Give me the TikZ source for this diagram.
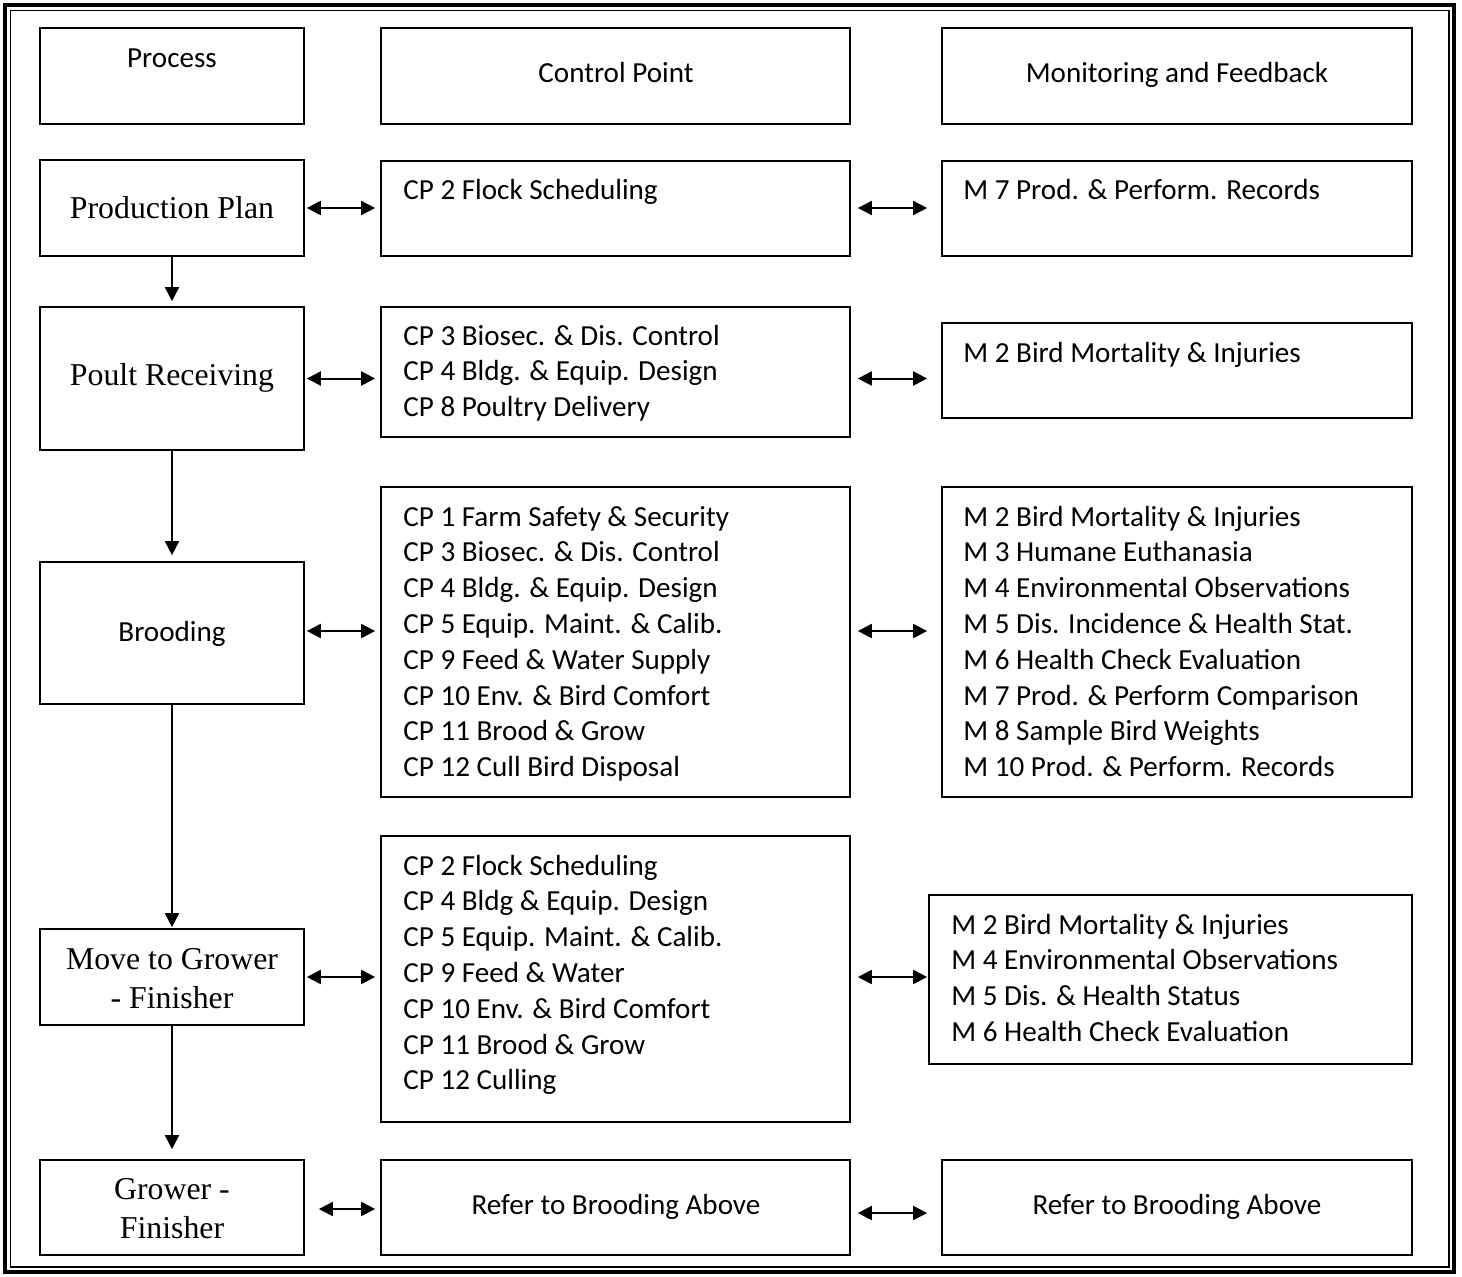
\documentclass[tikz,border=0pt]{standalone}
\usepackage{fontspec}
\setmainfont{Carlito}
\newfontfamily\tms{Liberation Serif}
\usetikzlibrary{arrows.meta,fit}
\newcommand\LftLines[1]{\vtop{\halign{##\hfil\cr#1\crcr}}}
\newcommand\CtrLines[1]{\vtop{\halign{\hfil##\hfil\cr#1\crcr}}}
\begin{document}
\begin{tikzpicture}[x=0.5pt,y=-0.5pt,
  box/.style={draw, line width=0.85pt, inner sep=0pt},
  cal/.style={font=\fontsize{14.55pt}{17.9pt}\selectfont, inner sep=0pt, anchor=base west},
  calc/.style={font=\fontsize{14.55pt}{17.9pt}\selectfont, inner sep=0pt, anchor=base},
  tmr/.style={font=\tms\fontsize{15.9pt}{19.5pt}\selectfont, inner sep=0pt, anchor=base},
  arr/.style={line width=1pt, -{Triangle[length=7pt,width=7pt]}},
  dbl/.style={line width=1pt, {Triangle[length=7pt,width=7pt]}-{Triangle[length=7pt,width=7pt]}}]
\useasboundingbox (0,0) rectangle (1462,1276);
% frame
\draw[line width=1.6pt] (5,5) rectangle (1454,1272);
\draw[line width=0.9pt] (10.5,10.5) rectangle (1449,1267);
% header
\node[box, fit={(40,28) (304,124)}] (h1) {};
\node[box, fit={(381,28) (850,124)}] (h2) {};
\node[box, fit={(942,28) (1412,124)}] (h3) {};
\node[calc] (h1t) at (172,67) {Process};
\node[calc] (h2t) at (616,82) {Control Point};
\node[calc] (h3t) at (1177,82) {Monitoring and Feedback};
% row 1
\node[box, fit={(40,160) (304,256)}] (p1) {};
\node[box, fit={(381,161) (850,256)}] (c1) {};
\node[box, fit={(942,161) (1412,256)}] (m1) {};
\node[tmr] (p1t) at (172,218) {Production Plan};
\node[cal] (c1t) at (403,199) {CP 2 Flock Scheduling};
\node[cal] (m1t) at (963,199) {M 7 Prod. \& Perform. Records};
% row 2
\node[box, fit={(40,307) (304,450)}] (p2) {};
\node[box, fit={(381,307) (850,437)}] (c2) {};
\node[box, fit={(942,323) (1412,418)}] (m2) {};
\node[tmr] (p2t) at (172,385) {Poult Receiving};
\node[cal] (c2t) at (403,345) {\LftLines{CP 3 Biosec. \& Dis. Control\cr CP 4 Bldg. \& Equip. Design\cr CP 8 Poultry Delivery}};
\node[cal] (m2t) at (963,362) {M 2 Bird Mortality \& Injuries};
% row 3
\node[box, fit={(40,562) (304,704)}] (p3) {};
\node[box, fit={(381,487) (850,797)}] (c3) {};
\node[box, fit={(942,487) (1412,797)}] (m3) {};
\node[calc] (p3t) at (172,641) {Brooding};
\node[cal] (c3t) at (403,526) {\LftLines{CP 1 Farm Safety \& Security\cr CP 3 Biosec. \& Dis. Control\cr CP 4 Bldg. \& Equip. Design\cr CP 5 Equip. Maint. \& Calib.\cr CP 9 Feed \& Water Supply\cr CP 10 Env. \& Bird Comfort\cr CP 11 Brood \& Grow\cr CP 12 Cull Bird Disposal}};
\node[cal] (m3t) at (963,526) {\LftLines{M 2 Bird Mortality \& Injuries\cr M 3 Humane Euthanasia\cr M 4 Environmental Observations\cr M 5 Dis. Incidence \& Health Stat.\cr M 6 Health Check Evaluation\cr M 7 Prod. \& Perform Comparison\cr M 8 Sample Bird Weights\cr M 10 Prod. \& Perform. Records}};
% row 4
\node[box, fit={(40,929) (304,1025)}] (p4) {};
\node[box, fit={(381,836) (850,1122)}] (c4) {};
\node[box, fit={(929,895) (1412,1064)}] (m4) {};
\node[tmr] (p4t) at (172,969) {\CtrLines{Move to Grower\cr - Finisher}};
\node[cal] (c4t) at (403,875) {\LftLines{CP 2 Flock Scheduling\cr CP 4 Bldg \& Equip. Design\cr CP 5 Equip. Maint. \& Calib.\cr CP 9 Feed \& Water\cr CP 10 Env. \& Bird Comfort\cr CP 11 Brood \& Grow\cr CP 12 Culling}};
\node[cal] (m4t) at (951,934) {\LftLines{M 2 Bird Mortality \& Injuries\cr M 4 Environmental Observations\cr M 5 Dis. \& Health Status\cr M 6 Health Check Evaluation}};
% row 5
\node[box, fit={(40,1160) (304,1255)}] (p5) {};
\node[box, fit={(381,1160) (850,1255)}] (c5) {};
\node[box, fit={(942,1160) (1412,1255)}] (m5) {};
\node[tmr] (p5t) at (172,1199) {\CtrLines{Grower -\cr Finisher}};
\node[calc] (c5t) at (616,1214) {Refer to Brooding Above};
\node[calc] (m5t) at (1177,1214) {Refer to Brooding Above};
% vertical arrows
\draw[arr, shorten >=2.5pt] (p1) -- (p2);
\draw[arr, shorten >=3pt] (p2) -- (p3);
\draw[arr, shorten >=0.5pt] (p3) -- (p4);
\draw[arr, shorten >=5pt] (p4) -- (p5);
% horizontal arrows
\draw[dbl, shorten <=1pt, shorten >=2.5pt] (p1.east) -- (p1.east -| c1.west);
\draw[dbl, shorten <=3.5pt, shorten >=7pt] (c1.east |- p1.east) -- (m1.west |- p1.east);
\draw[dbl, shorten <=1pt, shorten >=2.5pt] (p2.east) -- (p2.east -| c2.west);
\draw[dbl, shorten <=3.5pt, shorten >=7pt] (c2.east |- p2.east) -- (m2.west |- p2.east);
\draw[dbl, shorten <=1pt, shorten >=2.5pt] ([yshift=1pt]p3.east) -- ([yshift=1pt]p3.east -| c3.west);
\draw[dbl, shorten <=3.5pt, shorten >=7pt] ([yshift=1pt]c3.east |- p3.east) -- ([yshift=1pt]m3.west |- p3.east);
\draw[dbl, shorten <=1pt, shorten >=2.5pt] (p4.east) -- (p4.east -| c4.west);
\draw[dbl, shorten <=3.5pt, shorten >=0.5pt] (c4.east |- p4.east) -- (m4.west |- p4.east);
\draw[dbl, shorten <=7pt, shorten >=2.5pt] ([yshift=-0.75pt]p5.east) -- ([yshift=-0.75pt]p5.east -| c5.west);
\draw[dbl, shorten <=3.5pt, shorten >=7pt] ([yshift=-2.75pt]c5.east |- p5.east) -- ([yshift=-2.75pt]m5.west |- p5.east);
\end{tikzpicture}
\end{document}
